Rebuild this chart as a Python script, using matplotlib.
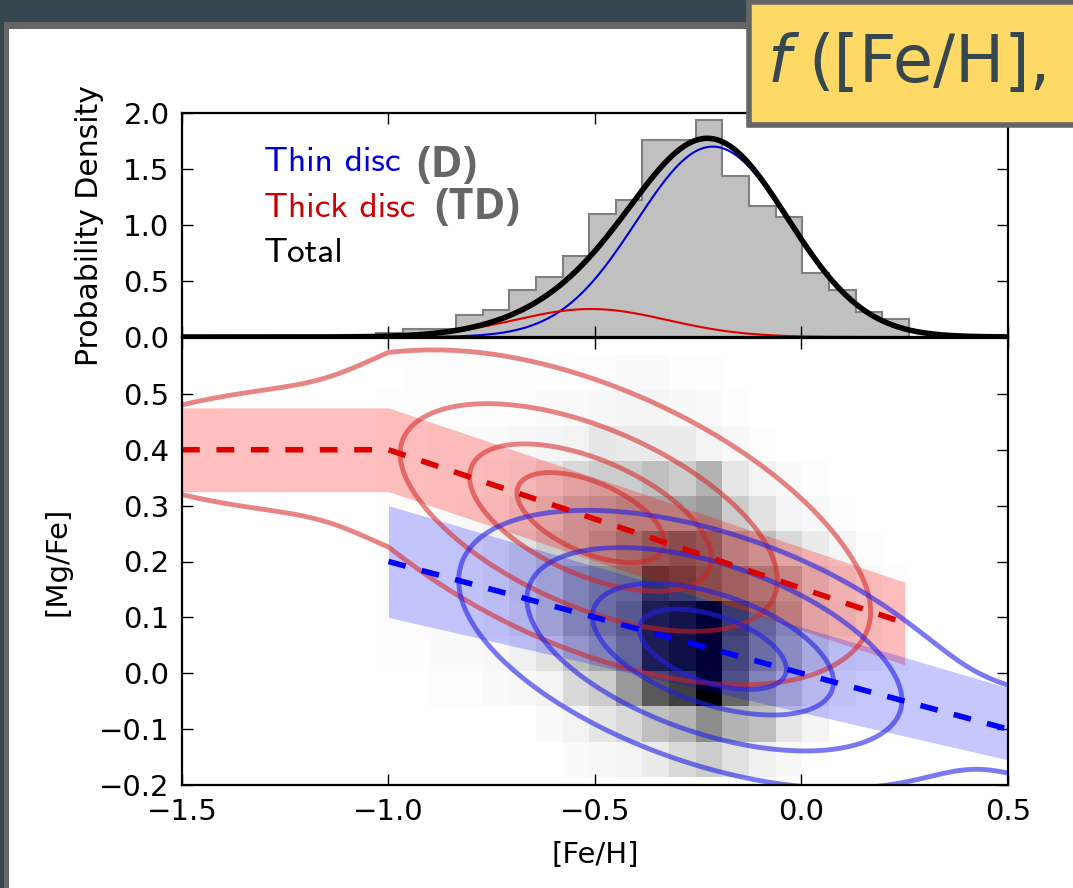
import numpy as np
import matplotlib.pyplot as plt
from matplotlib.patches import Rectangle

# ---- data ----
# [Fe/H] histogram, top panel
feh_edges = np.linspace(-1.03, 0.26, 21)
feh_density = [0.035, 0.07, 0.07, 0.195, 0.24, 0.42, 0.54, 0.72, 1.10, 1.22,
               1.755, 1.755, 1.935, 1.435, 1.17, 1.07, 0.57, 0.42, 0.22, 0.16]

# gaussian components: centre, width, peak height
thin_mean, thin_sigma, thin_peak = -0.215, 0.185, 1.70
thick_mean, thick_sigma, thick_peak = -0.51, 0.185, 0.25
# weak tails of the 2d model (relative height, centre, width)
thin_tail = (0.008, 0.6, 0.4)
thick_tail = (0.008, -0.9, 0.45)

# [Mg/Fe] trends and bands
thick_x = [-1.5, -1.0, 0.25]
thick_trend = [0.40, 0.40, 0.09]
thick_lo = [0.325, 0.325, 0.015]
thick_hi = [0.475, 0.475, 0.163]
thin_x = [-1.0, 0.5]
thin_trend = [0.20, -0.10]
thin_lo = [0.10, -0.155]
thin_hi = [0.30, -0.026]
thick_scatter = 0.07
thin_scatter = 0.065
thick_levels = [0.0017, 0.052, 0.29, 0.63]
thin_levels = [0.004, 0.052, 0.29, 0.63]

# 2d histogram of stars (darkness 0..1), rows from the lowest [Mg/Fe] bin up
mgfe_edges = np.linspace(-0.185, 0.569, 13)
counts2d = np.array([
    [0, 0, 0, 0, 0, 0, 0, 0.02, 0.03, 0.05, 0.08, 0.15, 0.20, 0.12, 0.06, 0.03, 0, 0, 0, 0],
    [0, 0, 0, 0, 0, 0, 0.02, 0.05, 0.10, 0.15, 0.25, 0.30, 0.45, 0.30, 0.25, 0.10, 0.04, 0, 0, 0],
    [0, 0, 0.01, 0.01, 0.02, 0.03, 0.05, 0.15, 0.20, 0.40, 0.65, 0.75, 1.00, 0.60, 0.35, 0.20, 0.08, 0.03, 0, 0],
    [0.01, 0.01, 0.02, 0.02, 0.03, 0.06, 0.12, 0.25, 0.35, 0.50, 0.85, 0.92, 1.00, 0.65, 0.45, 0.30, 0.15, 0.06, 0.04, 0.02],
    [0.015, 0.015, 0.02, 0.02, 0.05, 0.10, 0.20, 0.35, 0.45, 0.55, 0.85, 0.90, 1.00, 0.70, 0.50, 0.35, 0.15, 0.10, 0.05, 0.02],
    [0.015, 0.015, 0.02, 0.03, 0.06, 0.12, 0.20, 0.35, 0.45, 0.50, 0.75, 0.70, 0.60, 0.50, 0.40, 0.30, 0.15, 0.08, 0.03, 0.01],
    [0.015, 0.015, 0.02, 0.03, 0.06, 0.12, 0.20, 0.25, 0.35, 0.45, 0.55, 0.60, 0.55, 0.35, 0.25, 0.15, 0.08, 0.04, 0.01, 0],
    [0.015, 0.015, 0.02, 0.03, 0.05, 0.10, 0.15, 0.25, 0.30, 0.35, 0.35, 0.35, 0.40, 0.20, 0.12, 0.05, 0.03, 0.01, 0, 0],
    [0.01, 0.015, 0.02, 0.02, 0.03, 0.05, 0.10, 0.15, 0.20, 0.20, 0.25, 0.20, 0.30, 0.10, 0.05, 0.02, 0.01, 0, 0, 0],
    [0.01, 0.01, 0.02, 0.02, 0.02, 0.03, 0.04, 0.05, 0.10, 0.08, 0.08, 0.08, 0.05, 0.03, 0.01, 0, 0, 0, 0, 0],
    [0.01, 0.01, 0.01, 0.01, 0.01, 0.01, 0.02, 0.02, 0.03, 0.04, 0.04, 0.03, 0.02, 0.01, 0, 0, 0, 0, 0, 0],
    [0, 0.01, 0.01, 0.01, 0.01, 0.01, 0.01, 0.01, 0.01, 0.02, 0.02, 0.01, 0.01, 0, 0, 0, 0, 0, 0, 0],
])

W, H = 1073, 888
plt.rcParams['font.family'] = 'DejaVu Sans'


def fx(x):
    return x / W


def fy(y):
    return 1 - y / H


def profile(x, mean, sigma, tail):
    a, mu, s = tail
    return np.exp(-0.5 * ((x - mean) / sigma) ** 2) + a * np.exp(-0.5 * ((x - mu) / s) ** 2)


fig = plt.figure(figsize=(W / 100, H / 100), dpi=100, facecolor='#37474f')
fig.add_artist(Rectangle((fx(4), -0.1), 1.2, fy(22) + 0.1, transform=fig.transFigure,
                         facecolor='#666666', edgecolor='none', zorder=-10))
fig.add_artist(Rectangle((fx(9), -0.1), 1.2, fy(29) + 0.1, transform=fig.transFigure,
                         facecolor='white', edgecolor='none', zorder=-9))

ax1 = fig.add_axes([fx(182), fy(337), fx(1008) - fx(182), fy(113) - fy(337)])
ax2 = fig.add_axes([fx(182), fy(785), fx(1008) - fx(182), fy(338) - fy(785)])

# top panel
ax1.stairs(feh_density, feh_edges, fill=True, color='#c0c0c0', zorder=1)
ax1.stairs(feh_density, feh_edges, color='#808080', lw=1.5, zorder=1)
xs = np.linspace(-1.5, 0.5, 600)
thin = thin_peak * np.exp(-0.5 * ((xs - thin_mean) / thin_sigma) ** 2)
thick = thick_peak * np.exp(-0.5 * ((xs - thick_mean) / thick_sigma) ** 2)
ax1.plot(xs, thin, color='#0000dd', lw=1.5, zorder=3)
ax1.plot(xs, thick, color='#dd0000', lw=1.5, zorder=3)
ax1.plot(xs, thin + thick, color='black', lw=4, zorder=4)
ax1.set_xlim(-1.5, 0.5)
ax1.set_ylim(0, 2.0)
ax1.set_yticks([0.0, 0.5, 1.0, 1.5, 2.0])
ax1.set_yticklabels(['0.0', '0.5', '1.0', '1.5', '2.0'])
ax1.set_xticks([-1.5, -1.0, -0.5, 0.0, 0.5])
ax1.set_xticklabels([])

# bottom panel
ax2.pcolormesh(feh_edges, mgfe_edges, counts2d, cmap='gray_r', vmin=0, vmax=1, zorder=1)
ax2.fill_between(thick_x, thick_lo, thick_hi, color='red', alpha=0.25, lw=0, zorder=2)
ax2.fill_between(thin_x, thin_lo, thin_hi, color='blue', alpha=0.22, lw=0, zorder=2)

gx = np.linspace(-1.7, 0.7, 481)
gy = np.linspace(-0.35, 0.75, 441)
X, Y = np.meshgrid(gx, gy)
d_thick = profile(X, thick_mean, thick_sigma, thick_tail) * \
    np.exp(-0.5 * ((Y - np.interp(X, thick_x, thick_trend)) / thick_scatter) ** 2)
d_thin = profile(X, thin_mean, thin_sigma, thin_tail) * \
    np.exp(-0.5 * ((Y - np.interp(X, thin_x, thin_trend)) / thin_scatter) ** 2)
ax2.contour(X, Y, d_thick / d_thick.max(), levels=thick_levels,
            colors=['#d42020'], linewidths=3.5, alpha=0.55, zorder=3)
ax2.contour(X, Y, d_thin / d_thin.max(), levels=thin_levels,
            colors=['#2020e6'], linewidths=3.5, alpha=0.6, zorder=3)

ax2.plot(thick_x, thick_trend, color='#dd0000', lw=4, dashes=(3.2, 3), zorder=4)
ax2.plot(thin_x, thin_trend, color='#0000ff', lw=4, dashes=(3.2, 3), zorder=4)
ax2.set_xlim(-1.5, 0.5)
ax2.set_ylim(-0.2, 0.6)
ax2.set_yticks([-0.2, -0.1, 0.0, 0.1, 0.2, 0.3, 0.4, 0.5])
ax2.set_xticks([-1.5, -1.0, -0.5, 0.0, 0.5])

for ax in (ax1, ax2):
    ax.tick_params(direction='in', top=True, right=True, length=8, width=1,
                   labelsize=21, pad=9)
    for sp in ax.spines.values():
        sp.set_linewidth(1.6)
        sp.set_zorder(6)

# axis labels
fig.text(fx(90), fy(226), 'Probability Density', rotation=90, ha='center', va='center', fontsize=21.5)
fig.text(fx(57), fy(561), '[Mg/Fe]', rotation=90, ha='center', va='center', fontsize=21)
fig.text(fx(595), fy(855), '[Fe/H]', ha='center', va='center', fontsize=21)

# legend text
fig.text(fx(264), fy(171), 'Thin disc', color='#0000dd', family='cmss10', fontsize=25.5, va='baseline')
fig.text(fx(264), fy(217), 'Thick disc', color='#cc0000', family='cmss10', fontsize=25.5, va='baseline')
fig.text(fx(264), fy(262), 'Total', color='black', family='cmss10', fontsize=25.5, va='baseline')
fig.text(fx(416), fy(177), '(D)', color='#666666', family='Open Sans', weight='bold',
         fontsize=31, va='baseline')
fig.text(fx(434), fy(219), '(TD)', color='#666666', family='Open Sans', weight='bold',
         fontsize=31, va='baseline')

# yellow title box
fig.add_artist(Rectangle((fx(749), fy(125)), 0.4, fy(2.5) - fy(125), transform=fig.transFigure,
                         facecolor='#ffd966', edgecolor='#666666', lw=4, zorder=20))
fig.text(fx(768), fy(82), 'f', color='#37474f', style='italic',
         fontsize=47, va='baseline', zorder=21)
fig.text(fx(808), fy(82), '([Fe/H],', color='#37474f',
         fontsize=47, va='baseline', zorder=21)

fig.savefig('out.png', dpi=100, facecolor=fig.get_facecolor())
